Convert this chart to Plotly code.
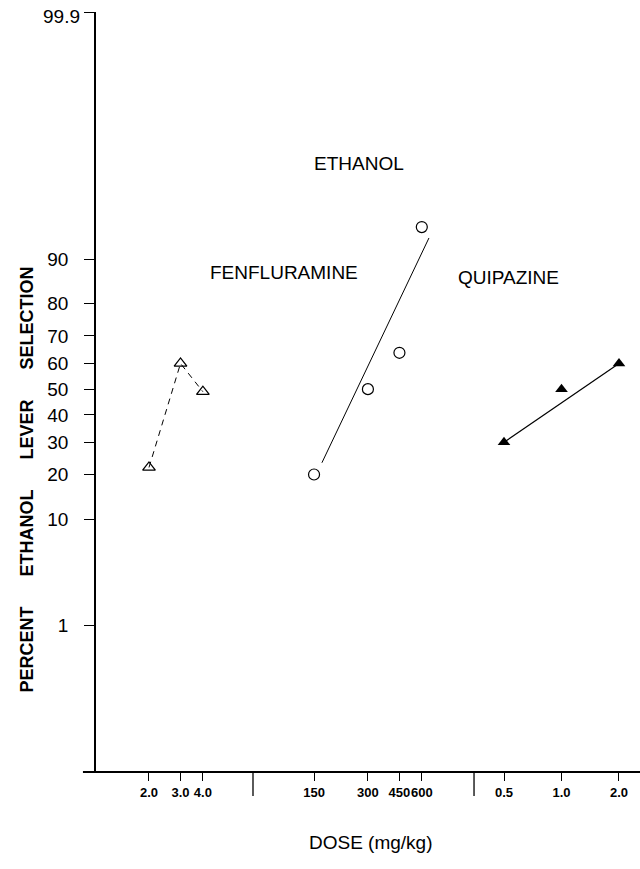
import plotly.graph_objects as go
from statistics import NormalDist

# ---- data ----
fen_dose = [2.0, 3.0, 4.0]
fen_pct = [22, 60, 49]

eth_dose = [150, 300, 450, 600]
eth_pct = [20, 50, 64, 94.5]
eth_fit_dose = [166, 658]
eth_fit_pct = [23.4, 93.2]

qui_dose = [0.5, 1.0, 2.0]
qui_pct = [30, 50, 60]
qui_fit_dose = [0.5, 2.0]
qui_fit_pct = [30, 60]

y_tick_pct = [1, 10, 20, 30, 40, 50, 60, 70, 80, 90]
y_tick_text = ["1", "10", "20", "30", "40", "50", "60", "70", "80", "90"]
y_top_pct = 99.99      # top of the probability axis, labelled "99.9"
y_bottom_pct = 0.008

fen_ticks = [2.0, 3.0, 4.0]
fen_ticktext = ["2.0", "3.0", "4.0"]
eth_ticks = [150, 300, 450, 600]
eth_ticktext = ["150", "300", "450", "600"]
qui_ticks = [0.5, 1.0, 2.0]
qui_ticktext = ["0.5", "1.0", "2.0"]

nd = NormalDist()
def probit(p_list):
    return [nd.inv_cdf(p / 100.0) for p in p_list]

FONT = "Liberation Sans, Arial, Helvetica, sans-serif"

fig = go.Figure()

# Fenfluramine: open triangles, dashed connecting line
fig.add_trace(go.Scatter(
    x=fen_dose, y=probit(fen_pct), xaxis="x", yaxis="y",
    mode="lines+markers",
    line=dict(color="black", width=1, dash="6px,5px"),
    marker=dict(symbol="triangle-up-open", size=11, color="black",
                line=dict(width=1.3, color="black")),
    showlegend=False))

# Ethanol: open circles with fitted line
fig.add_trace(go.Scatter(
    x=eth_fit_dose, y=probit(eth_fit_pct), xaxis="x2", yaxis="y",
    mode="lines", line=dict(color="black", width=1), showlegend=False))
fig.add_trace(go.Scatter(
    x=eth_dose, y=probit(eth_pct), xaxis="x2", yaxis="y",
    mode="markers",
    marker=dict(symbol="circle-open", size=11, color="black",
                line=dict(width=1.2, color="black")),
    showlegend=False))

# Quipazine: filled triangles with line
fig.add_trace(go.Scatter(
    x=qui_fit_dose, y=probit(qui_fit_pct), xaxis="x3", yaxis="y",
    mode="lines", line=dict(color="black", width=1.2), showlegend=False))
fig.add_trace(go.Scatter(
    x=qui_dose, y=probit(qui_pct), xaxis="x3", yaxis="y",
    mode="markers",
    marker=dict(symbol="triangle-up", size=11, color="black"),
    showlegend=False))

d1, d2 = 0.2886, 0.6949
xcommon = dict(type="log", showgrid=False, zeroline=False, showline=False,
               ticks="outside", ticklen=8, tickwidth=1, tickcolor="black",
               tickangle=0,
               tickfont=dict(family=FONT, size=13, color="black", weight="bold"),
               anchor="y")

fig.update_layout(
    width=640, height=869,
    margin=dict(l=96, r=0, t=12, b=97),
    paper_bgcolor="white", plot_bgcolor="white",
    xaxis=dict(domain=[0, d1], range=[0.005, 0.882],
               tickvals=fen_ticks, ticktext=fen_ticktext, **xcommon),
    xaxis2=dict(domain=[d1, d2], range=[1.835, 3.070],
                tickvals=eth_ticks, ticktext=eth_ticktext, **xcommon),
    xaxis3=dict(domain=[d2, 1], range=[-0.458, 0.411],
                tickvals=qui_ticks, ticktext=qui_ticktext, **xcommon),
    yaxis=dict(range=[nd.inv_cdf(y_bottom_pct / 100), nd.inv_cdf(y_top_pct / 100)],
               tickvals=probit(y_tick_pct) + probit([y_top_pct]),
               ticktext=y_tick_text + [""],
               showgrid=False, zeroline=False,
               showline=True, linecolor="black", linewidth=1.5,
               ticks="outside", ticklen=10, tickwidth=1, tickcolor="black",
               ticklabelstandoff=12,
               tickfont=dict(family=FONT, size=19, color="black")),
)

# x-axis baseline (extends slightly left of the y axis) and segment separators
fig.add_shape(type="line", xref="paper", yref="paper",
              x0=-0.024, x1=1, y0=0, y1=0, line=dict(color="black", width=2))
for xs in (d1, d2):
    fig.add_shape(type="line", xref="paper", yref="paper",
                  x0=xs, x1=xs, y0=0, y1=-24 / 760, line=dict(color="black", width=1.3))

ann_font = dict(family=FONT, size=19, color="black")
fig.add_annotation(text="99.9", xref="paper", yref="paper", x=-0.0257, y=0.9947,
                   xanchor="right", yanchor="middle", showarrow=False, font=ann_font)
fig.add_annotation(text="FENFLURAMINE", xref="paper", yref="paper", x=0.206, y=0.674,
                   showarrow=False, font=ann_font)
fig.add_annotation(text="ETHANOL", xref="paper", yref="paper", x=0.4835, y=0.817,
                   showarrow=False, font=ann_font)
fig.add_annotation(text="QUIPAZINE", xref="paper", yref="paper", x=0.855, y=0.651,
                   showarrow=False, font=ann_font)
fig.add_annotation(text="DOSE (mg/kg)", xref="paper", yref="paper", x=0.5055, y=-0.109,
                   showarrow=False, font=dict(family=FONT, size=19, color="black"))
sp = "\u00a0" * 6
fig.add_annotation(text="<b>PERCENT" + sp + "ETHANOL" + sp + "LEVER" + sp + "SELECTION</b>",
                   xref="paper", yref="paper", x=-0.148, y=0.3855, textangle=-90,
                   showarrow=False, font=dict(family=FONT, size=18, color="black"))

fig.write_html("out.html")
